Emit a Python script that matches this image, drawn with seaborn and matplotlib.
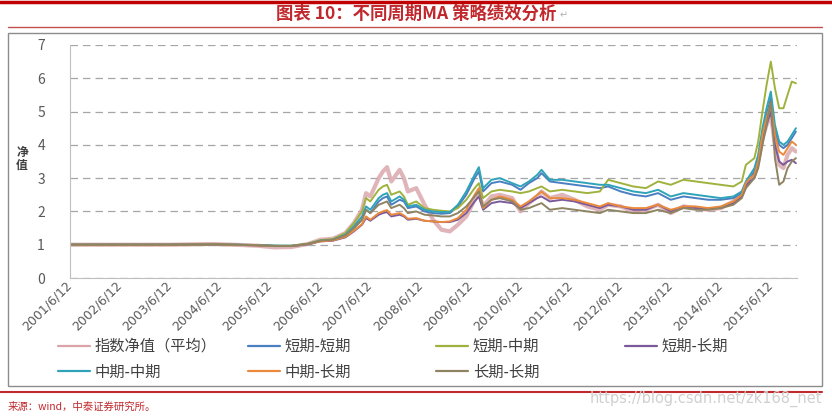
import pandas as pd
import seaborn as sns
import matplotlib.pyplot as plt
from matplotlib.lines import Line2D
from matplotlib.patches import Rectangle

#%% data
dates = ["2001-06-12", "2002-06-12", "2003-06-12", "2004-04-12", "2004-09-12",
         "2005-03-12", "2005-07-12", "2005-11-12", "2006-03-12", "2006-06-12",
         "2006-09-12", "2006-12-12", "2007-02-12", "2007-04-12", "2007-05-12",
         "2007-06-12", "2007-08-12", "2007-09-12", "2007-10-12", "2007-11-12",
         "2008-01-12", "2008-02-12", "2008-03-12", "2008-05-12", "2008-07-12",
         "2008-09-12", "2008-11-12", "2009-01-12", "2009-03-12", "2009-05-12",
         "2009-07-12", "2009-08-12", "2009-09-12", "2009-11-12", "2010-01-12",
         "2010-04-12", "2010-06-12", "2010-08-12", "2010-10-12", "2010-11-12",
         "2011-01-12", "2011-04-12", "2011-07-12", "2011-10-12", "2012-01-12",
         "2012-03-12", "2012-06-12", "2012-09-12", "2012-12-12", "2013-03-12",
         "2013-06-12", "2013-09-12", "2013-12-12", "2014-03-12", "2014-06-12",
         "2014-09-12", "2014-11-12", "2014-12-12", "2015-01-12", "2015-02-12",
         "2015-03-12", "2015-04-12", "2015-05-12", "2015-06-12", "2015-07-12",
         "2015-08-12", "2015-09-12", "2015-10-12", "2015-11-12", "2015-12-12"]

index_nav = [1.00, 1.00, 1.00, 1.02, 1.00, 0.97, 0.92, 0.93, 1.02, 1.15,
             1.18, 1.35, 1.65, 2.05, 2.55, 2.45, 3.00, 3.20, 3.33, 2.90,
             3.25, 3.00, 2.60, 2.70, 2.20, 1.75, 1.45, 1.40, 1.60, 1.85,
             2.35, 2.55, 2.15, 2.45, 2.50, 2.40, 2.00, 2.25, 2.45, 2.60,
             2.40, 2.50, 2.35, 2.15, 2.05, 2.20, 2.15, 2.00, 2.05, 2.20,
             1.95, 2.15, 2.10, 2.05, 2.10, 2.30, 2.50, 2.80, 3.00, 3.10,
             3.50, 4.20, 4.60, 4.90, 4.00, 3.40, 3.30, 3.70, 3.90, 3.80]

short_short = [1.00, 1.00, 1.00, 1.01, 1.00, 0.99, 0.97, 0.96, 1.02, 1.12,
               1.14, 1.28, 1.50, 1.75, 2.05, 1.95, 2.30, 2.40, 2.45, 2.20,
               2.35, 2.30, 2.10, 2.15, 2.00, 1.95, 1.93, 1.95, 2.15, 2.50,
               3.00, 3.20, 2.60, 2.85, 2.90, 2.80, 2.65, 2.85, 3.00, 3.15,
               2.90, 2.85, 2.80, 2.75, 2.70, 2.75, 2.60, 2.50, 2.45, 2.55,
               2.35, 2.45, 2.40, 2.35, 2.35, 2.40, 2.55, 2.80, 3.00, 3.20,
               3.60, 4.30, 4.90, 5.40, 4.40, 4.00, 3.90, 4.00, 4.20, 4.40]

short_mid = [1.00, 1.00, 1.00, 1.01, 1.00, 0.99, 0.97, 0.97, 1.03, 1.14,
             1.17, 1.35, 1.65, 2.00, 2.40, 2.30, 2.65, 2.75, 2.80, 2.50,
             2.60, 2.45, 2.20, 2.30, 2.10, 2.05, 2.02, 2.00, 2.10, 2.35,
             2.70, 2.85, 2.40, 2.60, 2.65, 2.60, 2.55, 2.60, 2.70, 2.75,
             2.60, 2.65, 2.60, 2.55, 2.60, 2.95, 2.85, 2.75, 2.70, 2.90,
             2.80, 2.95, 2.90, 2.85, 2.80, 2.75, 2.90, 3.40, 3.50, 3.60,
             4.10, 5.00, 5.80, 6.50, 5.70, 5.10, 5.10, 5.50, 5.90, 5.85]

short_long = [1.00, 1.00, 1.00, 1.01, 1.00, 0.98, 0.96, 0.96, 1.01, 1.10,
              1.12, 1.22, 1.40, 1.60, 1.80, 1.72, 1.90, 1.95, 1.98, 1.85,
              1.90, 1.85, 1.75, 1.78, 1.72, 1.70, 1.68, 1.68, 1.75, 1.95,
              2.30, 2.45, 2.05, 2.25, 2.30, 2.25, 2.10, 2.25, 2.40, 2.45,
              2.30, 2.35, 2.30, 2.20, 2.10, 2.20, 2.15, 2.05, 2.05, 2.20,
              2.00, 2.15, 2.10, 2.10, 2.10, 2.25, 2.45, 2.75, 2.90, 3.00,
              3.40, 4.10, 4.60, 5.00, 4.00, 3.50, 3.40, 3.50, 3.55, 3.45]

mid_mid = [1.00, 1.00, 1.00, 1.01, 1.00, 0.99, 0.97, 0.97, 1.02, 1.12,
           1.15, 1.30, 1.55, 1.85, 2.15, 2.05, 2.40, 2.50, 2.55, 2.30,
           2.45, 2.35, 2.15, 2.20, 2.05, 2.00, 1.98, 1.98, 2.20, 2.60,
           3.10, 3.33, 2.70, 2.95, 3.00, 2.85, 2.75, 2.90, 3.10, 3.25,
           2.95, 2.95, 2.90, 2.85, 2.80, 2.80, 2.70, 2.60, 2.55, 2.65,
           2.45, 2.55, 2.50, 2.45, 2.40, 2.45, 2.60, 2.90, 3.10, 3.30,
           3.70, 4.50, 5.10, 5.60, 4.60, 4.10, 4.00, 4.10, 4.30, 4.50]

mid_long = [1.00, 1.00, 1.00, 1.01, 1.00, 0.98, 0.96, 0.96, 1.02, 1.10,
            1.13, 1.24, 1.42, 1.62, 1.85, 1.75, 1.95, 2.00, 2.04, 1.90,
            1.95, 1.88, 1.78, 1.80, 1.72, 1.70, 1.68, 1.70, 1.80, 2.05,
            2.50, 2.70, 2.10, 2.35, 2.45, 2.35, 2.15, 2.30, 2.50, 2.60,
            2.40, 2.40, 2.35, 2.25, 2.15, 2.25, 2.15, 2.10, 2.10, 2.20,
            2.05, 2.15, 2.15, 2.10, 2.15, 2.30, 2.50, 2.85, 3.00, 3.10,
            3.50, 4.30, 4.80, 5.25, 4.30, 3.80, 3.70, 3.90, 4.10, 4.00]

long_long = [1.00, 1.00, 1.00, 1.01, 1.00, 0.98, 0.96, 0.96, 1.02, 1.12,
             1.15, 1.28, 1.50, 1.75, 2.05, 1.95, 2.20, 2.25, 2.30, 2.10,
             2.20, 2.10, 1.95, 2.00, 1.90, 1.88, 1.85, 1.85, 1.95, 2.15,
             2.45, 2.60, 2.15, 2.35, 2.40, 2.30, 2.05, 2.10, 2.20, 2.25,
             2.05, 2.10, 2.05, 2.00, 1.95, 2.05, 2.00, 1.95, 1.95, 2.05,
             1.95, 2.10, 2.05, 2.05, 2.10, 2.20, 2.40, 2.70, 2.85, 3.00,
             3.30, 4.00, 4.60, 5.30, 3.60, 2.80, 2.90, 3.30, 3.50, 3.60]

series_names = ["指数净值（平均）", "短期-短期", "短期-中期", "短期-长期",
                "中期-中期", "中期-长期", "长期-长期"]
colors = ["#d9a3a8", "#4a7fc1", "#a0b23e", "#7b5a9c",
          "#2fa3b8", "#eb8a3c", "#8f8462"]
tick_dates = ["2001-06-12", "2002-06-12", "2003-06-12", "2004-06-12", "2005-06-12",
              "2006-06-12", "2007-06-12", "2008-06-12", "2009-06-12", "2010-06-12",
              "2011-06-12", "2012-06-12", "2013-06-12", "2014-06-12", "2015-06-12"]
tick_labels = ["2001/6/12", "2002/6/12", "2003/6/12", "2004/6/12", "2005/6/12",
               "2006/6/12", "2007/6/12", "2008/6/12", "2009/6/12", "2010/6/12",
               "2011/6/12", "2012/6/12", "2013/6/12", "2014/6/12", "2015/6/12"]

#%% long table for seaborn
all_values = [index_nav, short_short, short_mid, short_long, mid_mid, mid_long, long_long]
frames = []
for name, vals in zip(series_names, all_values):
    frames.append(pd.DataFrame({"date": pd.to_datetime(dates), "nav": vals, "series": name}))
df = pd.concat(frames, ignore_index=True)

#%% plot
sns.set_style("white")
plt.rcParams['font.family'] = ['Noto Sans CJK SC', 'DejaVu Sans']

W, H = 832, 418
fig = plt.figure(figsize=(W / 100, H / 100), dpi=100)
ax = fig.add_axes([70 / W, 1 - 278 / H, 727 / W, 233 / H])

sns.lineplot(data=df, x="date", y="nav", hue="series", hue_order=series_names,
             palette=colors, linewidth=1.4, errorbar=None, legend=False, ax=ax)
ax.lines[0].set_linewidth(3.0)
ax.lines[0].set_alpha(0.8)

ax.set_ylim(0, 7)
ax.set_yticks(range(0, 8))
ax.set_xlim(pd.Timestamp("2001-06-12"), pd.Timestamp("2015-12-20"))
ax.set_xticks(pd.to_datetime(tick_dates))
ax.set_xticklabels(tick_labels, rotation=45, ha="right", va="center",
                   rotation_mode="anchor", fontsize=9, color="#595959",
                   family="DejaVu Sans")
ax.tick_params(axis="x", length=0, pad=4)
ax.tick_params(axis="y", length=4, color="#bfbfbf", pad=14, labelsize=10,
               labelcolor="#595959")
ax.set_xlabel("")
ax.set_ylabel("")
ax.yaxis.grid(True, linestyle=(0, (6, 4)), color="#a6a6a6", linewidth=0.9)
for s in ["top", "right"]:
    ax.spines[s].set_visible(False)
for s in ["left", "bottom"]:
    ax.spines[s].set_color("#bfbfbf")

fig.text(22 / W, 1 - 159 / H, "净\n值", ha="center", va="center", fontsize=8.5,
         fontweight="bold", color="#404040", linespacing=1.0)

# legend, four columns like the excel one
handles = [Line2D([], [], color=c, lw=1.6) for c in colors]
cols = [(58, [0, 4]), (248, [1, 5]), (436, [2, 6]), (625, [3])]
for x0, ids in cols:
    fig.legend([handles[i] for i in ids], [series_names[i] for i in ids],
               loc="upper left", bbox_to_anchor=(x0 / W, 1 - 338 / H),
               frameon=False, fontsize=11, handlelength=2.1, handletextpad=0.3,
               labelspacing=0.55, borderpad=0, borderaxespad=0,
               labelcolor="#404040")

# report frame
fig.patches.append(Rectangle((8 / W, 1 - 386 / H), 814 / W, 353 / H,
                             transform=fig.transFigure, fill=False,
                             edgecolor="#8c8c8c", lw=1.0))
fig.add_artist(Line2D([0, 1], [1 - 2 / H] * 2, color="#c00000", lw=2.5))
fig.add_artist(Line2D([8 / W, 822 / W], [1 - 27 / H] * 2, color="#c0504d", lw=1.0))
fig.add_artist(Line2D([0, 822 / W], [1 - 392 / H] * 2, color="#c0282d", lw=1.5))

fig.text(0.5, 1 - 14 / H, "图表 10：不同周期MA 策略绩效分析", ha="center", va="center",
         fontsize=12.5, fontweight="bold", color="#c0282d")
fig.text(560 / W, 1 - 15 / H, "↵", ha="left", va="center", fontsize=7,
         color="#b0b0b0", family="DejaVu Sans")
fig.text(8 / W, 1 - 407 / H, "来源：wind，中泰证券研究所。", ha="left", va="center",
         fontsize=7.5, color="#c0282d")
fig.text(822 / W, 1 - 399 / H, "https://blog.csdn.net/zk168_net", ha="right",
         va="center", fontsize=10.5, color="#d0d0d0",
         family=["Liberation Sans Narrow", "DejaVu Sans Condensed", "DejaVu Sans"])

plt.savefig("out.png", dpi=100)
